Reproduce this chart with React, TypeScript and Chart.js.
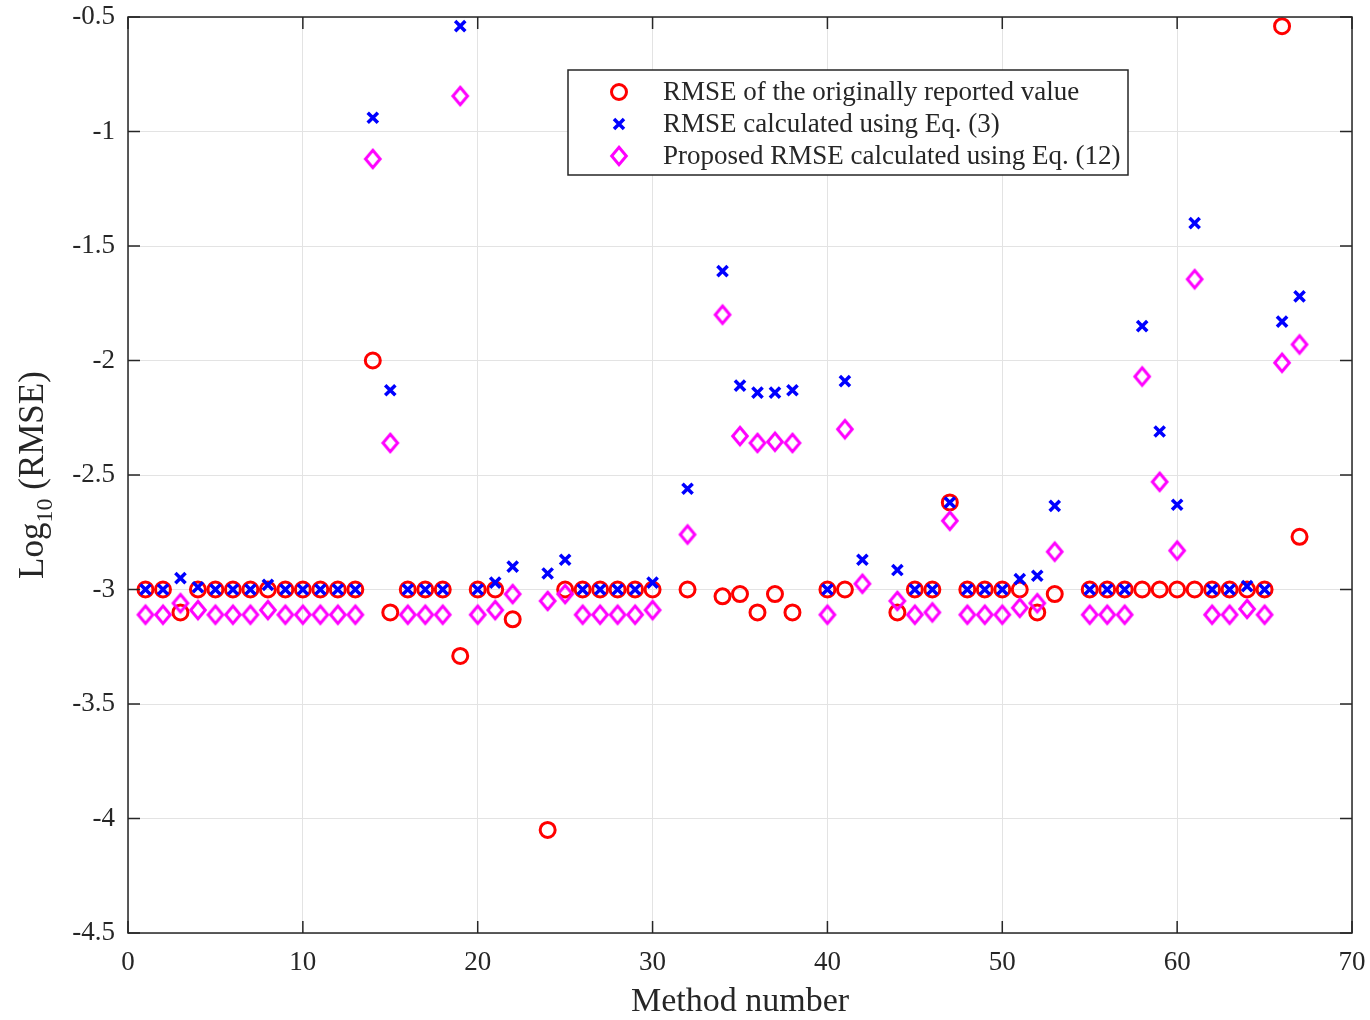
import { useEffect, useRef } from 'react';
import { Chart, registerables } from 'chart.js';

Chart.register(...registerables);

// Method numbers (x axis)
const methodNumbers = [
  1, 2, 3, 4, 5, 6, 7, 8, 9, 10, 11, 12, 13, 14, 15, 16, 17, 18, 19, 20,
  21, 22, 23, 24, 25, 26, 27, 28, 29, 30, 31, 32, 33, 34, 35, 36, 37, 38, 39, 40,
  41, 42, 43, 44, 45, 46, 47, 48, 49, 50, 51, 52, 53, 54, 55, 56, 57, 58, 59, 60,
  61, 62, 63, 64, 65, 66, 67,
];

// log10(RMSE) of the originally reported value
const rmseReported: (number | null)[] = [
  -3, -3, -3.1, -3, -3, -3, -3, -3, -3, -3, -3, -3, -3, -2.0, -3.1, -3, -3, -3, -3.29, -3,
  -3, -3.13, null, -4.05, -3, -3, -3, -3, -3, -3, null, -3, null, -3.03, -3.02, -3.1, -3.02, -3.1, null, -3,
  -3, null, null, -3.1, -3, -3, -2.62, -3, -3, -3, -3, -3.1, -3.02, null, -3, -3, -3, -3, -3, -3,
  -3, -3, -3, -3, -3, -0.54, -2.77,
];

// log10(RMSE) calculated using Eq. (3)
const rmseEq3: (number | null)[] = [
  -3, -3, -2.95, -2.99, -3, -3, -3, -2.98, -3, -3, -3, -3, -3, -0.94, -2.13, -3, -3, -3, -0.54, -3,
  -2.97, -2.9, null, -2.93, -2.87, -3, -3, -3, -3, -2.97, null, -2.56, null, -1.61, -2.11, -2.14, -2.14, -2.13, null, -3,
  -2.09, -2.87, null, -2.915, -3, -3, -2.62, -3, -3, -3, -2.955, -2.94, -2.635, null, -3, -3, -3, -1.85, -2.31, -2.63,
  -1.4, -3, -3, -2.985, -3, -1.83, -1.72,
];

// log10 of the proposed RMSE calculated using Eq. (12)
const rmseEq12: (number | null)[] = [
  -3.11, -3.11, -3.06, -3.09, -3.11, -3.11, -3.11, -3.09, -3.11, -3.11, -3.11, -3.11, -3.11, -1.12, -2.36, -3.11, -3.11, -3.11, -0.845, -3.11,
  -3.09, -3.02, null, -3.05, -3.02, -3.11, -3.11, -3.11, -3.11, -3.09, null, -2.76, null, -1.8, -2.33, -2.36, -2.355, -2.36, null, -3.11,
  -2.3, -2.975, null, -3.05, -3.11, -3.1, -2.7, -3.11, -3.11, -3.11, -3.08, -3.06, -2.835, null, -3.11, -3.11, -3.11, -2.07, -2.53, -2.83,
  -1.645, -3.11, -3.11, -3.085, -3.11, -2.01, -1.93,
];

const seriesLabels = [
  'RMSE of the originally reported value',
  'RMSE calculated using Eq. (3)',
  'Proposed RMSE calculated using Eq. (12)',
];

const xTicks = [0, 10, 20, 30, 40, 50, 60, 70];
const yTicks = [-4.5, -4, -3.5, -3, -2.5, -2, -1.5, -1, -0.5];

const xTitle = 'Method number';
const yTitleMain = 'Log';
const yTitleSub = '10';
const yTitleTail = ' (RMSE)';

const SERIF = "'Liberation Serif', 'Times New Roman', serif";
const INK = '#262626';
const RED = '#ff0000';
const BLUE = '#0000ff';
const MAGENTA = '#ff00ff';

function toPoints(values: (number | null)[]) {
  const pts: { x: number; y: number }[] = [];
  values.forEach((v, i) => {
    if (v !== null) pts.push({ x: methodNumbers[i], y: v });
  });
  return pts;
}

// Tall diamond marker, drawn once into an offscreen canvas
function makeDiamond(): HTMLCanvasElement {
  const c = document.createElement('canvas');
  c.width = 22;
  c.height = 26;
  const g = c.getContext('2d')!;
  g.strokeStyle = MAGENTA;
  g.lineWidth = 3;
  g.beginPath();
  g.moveTo(11, 4.3);
  g.lineTo(18.3, 13);
  g.lineTo(11, 21.7);
  g.lineTo(3.7, 13);
  g.closePath();
  g.stroke();
  return c;
}

function drawMarker(ctx: CanvasRenderingContext2D, kind: number, x: number, y: number, diamond: HTMLCanvasElement) {
  ctx.save();
  if (kind === 0) {
    ctx.strokeStyle = RED;
    ctx.lineWidth = 3;
    ctx.beginPath();
    ctx.arc(x, y, 7.5, 0, Math.PI * 2);
    ctx.stroke();
  } else if (kind === 1) {
    ctx.strokeStyle = BLUE;
    ctx.lineWidth = 3.5;
    const d = 5;
    ctx.beginPath();
    ctx.moveTo(x - d, y - d);
    ctx.lineTo(x + d, y + d);
    ctx.moveTo(x - d, y + d);
    ctx.lineTo(x + d, y - d);
    ctx.stroke();
  } else {
    ctx.drawImage(diamond, x - diamond.width / 2, y - diamond.height / 2);
  }
  ctx.restore();
}

export default function App() {
  const canvasRef = useRef<HTMLCanvasElement | null>(null);

  useEffect(() => {
    const canvas = canvasRef.current;
    if (!canvas) return;
    const diamond = makeDiamond();

    // Box, inward tick marks, axis titles and legend
    const framePlugin = {
      id: 'frame',
      afterDraw(chart: any) {
        const { ctx, chartArea } = chart;
        const { left, right, top, bottom } = chartArea;
        const xs = chart.scales.x;
        const ys = chart.scales.y;
        ctx.save();
        ctx.strokeStyle = INK;
        ctx.lineWidth = 1.5;
        ctx.strokeRect(left, top, right - left, bottom - top);
        const tl = 12;
        ctx.beginPath();
        xTicks.forEach((v) => {
          const px = xs.getPixelForValue(v);
          ctx.moveTo(px, bottom);
          ctx.lineTo(px, bottom - tl);
          ctx.moveTo(px, top);
          ctx.lineTo(px, top + tl);
        });
        yTicks.forEach((v) => {
          const py = ys.getPixelForValue(v);
          ctx.moveTo(left, py);
          ctx.lineTo(left + tl, py);
          ctx.moveTo(right, py);
          ctx.lineTo(right - tl, py);
        });
        ctx.stroke();

        // x-axis title
        ctx.fillStyle = INK;
        ctx.font = `34px ${SERIF}`;
        ctx.textAlign = 'center';
        ctx.textBaseline = 'alphabetic';
        ctx.fillText(xTitle, (left + right) / 2, 1011);

        // y-axis title with subscript
        const big = `35px ${SERIF}`;
        const small = `24px ${SERIF}`;
        ctx.font = big;
        const w1 = ctx.measureText(yTitleMain).width;
        const w3 = ctx.measureText(yTitleTail).width;
        ctx.font = small;
        const w2 = ctx.measureText(yTitleSub).width;
        const total = w1 + w2 + w3;
        ctx.translate(43, (top + bottom) / 2);
        ctx.rotate(-Math.PI / 2);
        ctx.textAlign = 'left';
        let cx = -total / 2;
        ctx.font = big;
        ctx.fillText(yTitleMain, cx, 0);
        cx += w1;
        ctx.font = small;
        ctx.fillText(yTitleSub, cx, 9);
        cx += w2;
        ctx.font = big;
        ctx.fillText(yTitleTail, cx, 0);
        ctx.restore();

        // legend
        ctx.save();
        const bx = 568, by = 70, bw = 560, bh = 105;
        ctx.fillStyle = '#ffffff';
        ctx.fillRect(bx, by, bw, bh);
        ctx.strokeStyle = INK;
        ctx.lineWidth = 1.5;
        ctx.strokeRect(bx, by, bw, bh);
        ctx.font = `27px ${SERIF}`;
        ctx.fillStyle = INK;
        ctx.textAlign = 'left';
        ctx.textBaseline = 'middle';
        seriesLabels.forEach((lab, i) => {
          const ry = 92 + i * 32;
          drawMarker(ctx, i, 619, ry, diamond);
          ctx.fillText(lab, 663, ry + 1);
        });
        ctx.restore();
      },
    };

    const chart = new Chart(canvas, {
      type: 'scatter',
      data: {
        datasets: [
          {
            label: seriesLabels[0],
            data: toPoints(rmseReported),
            pointStyle: 'circle',
            pointRadius: 7.5,
            pointBorderWidth: 3,
            pointBorderColor: RED,
            pointBackgroundColor: 'rgba(0,0,0,0)',
            order: 3,
          },
          {
            label: seriesLabels[1],
            data: toPoints(rmseEq3),
            pointStyle: 'crossRot',
            pointRadius: 7.2,
            pointBorderWidth: 3.5,
            pointBorderColor: BLUE,
            pointBackgroundColor: BLUE,
            order: 2,
          },
          {
            label: seriesLabels[2],
            data: toPoints(rmseEq12),
            pointStyle: diamond,
            pointRadius: 9,
            pointBorderColor: MAGENTA,
            pointBackgroundColor: 'rgba(0,0,0,0)',
            order: 1,
          },
        ],
      },
      options: {
        responsive: false,
        animation: false,
        layout: { padding: { left: 0, top: 17, right: 18, bottom: 0 } },
        plugins: {
          legend: { display: false },
          tooltip: { enabled: false },
        },
        scales: {
          x: {
            type: 'linear',
            min: 0,
            max: 70,
            afterBuildTicks: (scale: any) => {
              scale.ticks = xTicks.map((v) => ({ value: v }));
            },
            afterFit: (scale: any) => {
              scale.height = 87;
              scale.paddingLeft = 0;
              scale.paddingRight = 0;
            },
            grid: { color: '#e3e3e3', lineWidth: 1, drawTicks: false },
            border: { display: false },
            ticks: {
              padding: 14,
              color: INK,
              font: { family: SERIF, size: 27 },
              callback: (v: any) => String(v),
            },
          },
          y: {
            type: 'linear',
            min: -4.5,
            max: -0.5,
            afterBuildTicks: (scale: any) => {
              scale.ticks = yTicks.map((v) => ({ value: v }));
            },
            afterFit: (scale: any) => {
              scale.width = 128;
              scale.paddingTop = 0;
              scale.paddingBottom = 0;
            },
            grid: { color: '#e3e3e3', lineWidth: 1, drawTicks: false },
            border: { display: false },
            ticks: {
              padding: 13,
              color: INK,
              font: { family: SERIF, size: 27 },
              callback: (v: any) => String(v),
            },
          },
        },
      },
      plugins: [framePlugin],
    });

    return () => {
      chart.destroy();
    };
  }, []);

  return (
    <div style={{ position: 'fixed', left: 0, top: 0, width: 1370, height: 1020, background: '#ffffff' }}>
      <canvas ref={canvasRef} width={1370} height={1020} />
    </div>
  );
}
